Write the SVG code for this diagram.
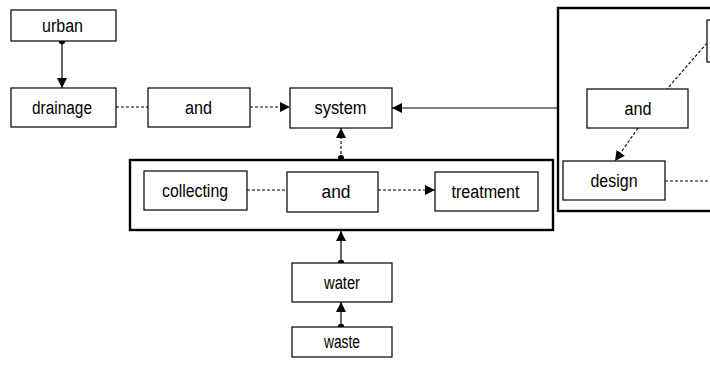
<svg xmlns="http://www.w3.org/2000/svg" width="710" height="366" viewBox="0 0 710 366">
  <style>
    .box { fill: #fff; stroke: #000; stroke-width: 1.2; }
    .frame { fill: none; stroke: #000; stroke-width: 2.4; }
    .lbl { font-family: "Liberation Sans", Arial, sans-serif; font-size: 18px; fill: #000; text-anchor: middle; dominant-baseline: central; }
    .solid { fill: none; stroke: #000; stroke-width: 1.2; }
    .dash { fill: none; stroke: #000; stroke-width: 1.1; stroke-dasharray: 3 2; }
    .dot { fill: #000; }
  </style>
  <defs>
    <marker id="arrow" viewBox="0 0 10 10" refX="10" refY="5" markerWidth="10" markerHeight="10" markerUnits="userSpaceOnUse" orient="auto">
      <path d="M0,0 L10,5 L0,10 Z" fill="#000"/>
    </marker>
  </defs>

  <!-- container frames -->
  <rect id="frame-process" class="frame" x="130" y="160" width="423" height="70"/>
  <rect id="frame-right" class="frame" x="558" y="8" width="160" height="203"/>

  <!-- connectors -->
  <g id="connectors">
    <line class="solid" x1="62" y1="41" x2="62" y2="88" marker-end="url(#arrow)"/>
    <circle class="dot" cx="62" cy="41" r="3.2"/>
    <line class="dash" x1="116" y1="107" x2="148" y2="107"/>
    <line class="dash" x1="250" y1="107" x2="290" y2="107" marker-end="url(#arrow)"/>
    <line class="solid" x1="558" y1="108" x2="392" y2="108" marker-end="url(#arrow)"/>
    <line class="dash" x1="341" y1="159" x2="341" y2="128" marker-end="url(#arrow)"/>
    <circle class="dot" cx="341" cy="158" r="3"/>
    <line class="dash" x1="247" y1="190" x2="287" y2="190"/>
    <line class="dash" x1="378" y1="190" x2="435" y2="190" marker-end="url(#arrow)"/>
    <line class="solid" x1="341" y1="263" x2="341" y2="231" marker-end="url(#arrow)"/>
    <circle class="dot" cx="341" cy="263" r="3.2"/>
    <line class="solid" x1="341" y1="327" x2="341" y2="302" marker-end="url(#arrow)"/>
    <circle class="dot" cx="341" cy="327" r="3.2"/>
    <line class="dash" x1="707" y1="43" x2="667" y2="89"/>
    <line class="dash" x1="638" y1="128" x2="615" y2="161" marker-end="url(#arrow)"/>
    <line class="dash" x1="665" y1="181" x2="710" y2="181"/>
  </g>

  <!-- nodes -->
  <g id="urban"><rect class="box" x="11" y="10" width="105" height="31"/><text class="lbl" x="62.5" y="25.5" textLength="41" lengthAdjust="spacingAndGlyphs">urban</text></g>
  <g id="drainage"><rect class="box" x="11" y="88" width="105" height="39"/><text class="lbl" x="62" y="107.5" textLength="60" lengthAdjust="spacingAndGlyphs">drainage</text></g>
  <g id="and-top"><rect class="box" x="148" y="88" width="102" height="39"/><text class="lbl" x="198.5" y="107.5" textLength="27" lengthAdjust="spacingAndGlyphs">and</text></g>
  <g id="system"><rect class="box" x="290" y="88" width="102" height="40"/><text class="lbl" x="340.5" y="108" textLength="52" lengthAdjust="spacingAndGlyphs">system</text></g>
  <g id="collecting"><rect class="box" x="144" y="171" width="103" height="39"/><text class="lbl" x="195" y="190.5" textLength="66" lengthAdjust="spacingAndGlyphs">collecting</text></g>
  <g id="and-mid"><rect class="box" x="287" y="172" width="91" height="40"/><text class="lbl" x="336" y="192" textLength="29" lengthAdjust="spacingAndGlyphs">and</text></g>
  <g id="treatment"><rect class="box" x="435" y="172" width="103" height="39"/><text class="lbl" x="485.5" y="191.5" textLength="68" lengthAdjust="spacingAndGlyphs">treatment</text></g>
  <g id="water"><rect class="box" x="292" y="263" width="100" height="39"/><text class="lbl" x="342" y="282.5" textLength="36" lengthAdjust="spacingAndGlyphs">water</text></g>
  <g id="waste"><rect class="box" x="292" y="327" width="100" height="30"/><text class="lbl" x="342" y="342" textLength="36" lengthAdjust="spacingAndGlyphs">waste</text></g>
  <g id="edge-node"><rect class="box" x="707" y="20" width="20" height="42"/></g>
  <g id="and-right"><rect class="box" x="587" y="89" width="101" height="39"/><text class="lbl" x="638" y="108.5" textLength="27" lengthAdjust="spacingAndGlyphs">and</text></g>
  <g id="design"><rect class="box" x="563" y="161" width="102" height="39"/><text class="lbl" x="614" y="180.5" textLength="47" lengthAdjust="spacingAndGlyphs">design</text></g>
</svg>
